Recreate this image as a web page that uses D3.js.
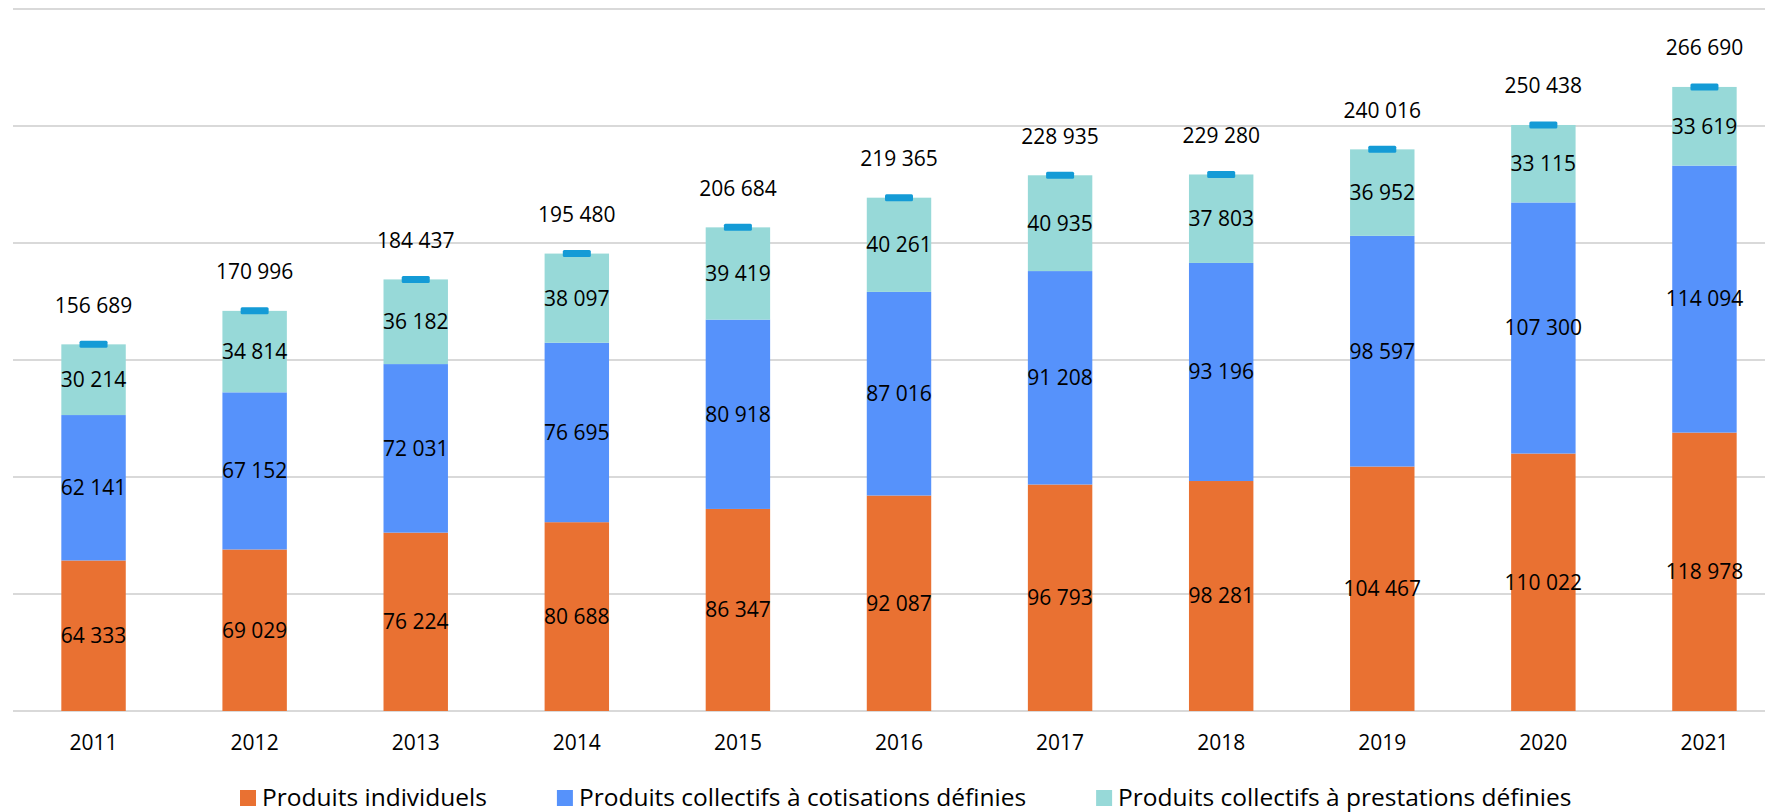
<!DOCTYPE html>
<html>
<head>
<meta charset="utf-8">
<script src="https://cdn.jsdelivr.net/npm/d3@7"></script>
<style>
  html, body { margin: 0; padding: 0; background: #fff; }
  svg { display: block; }
  text { font-family: "Open Sans", "Liberation Sans", sans-serif; fill: #000; }
</style>
</head>
<body>
<svg id="chart" width="1765" height="812"></svg>
<script>
const years = ["2011","2012","2013","2014","2015","2016","2017","2018","2019","2020","2021"];
const individuels = [64333, 69029, 76224, 80688, 86347, 92087, 96793, 98281, 104467, 110022, 118978];
const cotisations = [62141, 67152, 72031, 76695, 80918, 87016, 91208, 93196, 98597, 107300, 114094];
const prestations = [30214, 34814, 36182, 38097, 39419, 40261, 40935, 37803, 36952, 33115, 33619];
const totals = [156689, 170996, 184437, 195480, 206684, 219365, 228935, 229280, 240016, 250438, 266690];
const seriesNames = ["Produits individuels", "Produits collectifs à cotisations définies", "Produits collectifs à prestations définies"];
const yTicks = [0, 50000, 100000, 150000, 200000, 250000, 300000];

const colors = ["#E97132", "#5692FB", "#97D9D8"];
const markerColor = "#149BD6";
const fmt = v => d3.format(",")(v).replace(/,/g, " ");
const labelSize = 21;

const svg = d3.select("#chart");
const x = d3.scaleBand().domain(years).range([13, 1785]).paddingInner(0.6).paddingOuter(0.3);
const y = d3.scaleLinear().domain([0, 300000]).range([711, 9]);

// gridlines
svg.append("g").selectAll("line").data(yTicks).join("line")
  .attr("x1", 13).attr("x2", 1765)
  .attr("y1", d => y(d)).attr("y2", d => y(d))
  .attr("stroke", "#D9D9D9").attr("stroke-width", 2);

const table = years.map((yr, i) => ({ year: yr, s0: individuels[i], s1: cotisations[i], s2: prestations[i], total: totals[i] }));
const stack = d3.stack().keys(["s0", "s1", "s2"])(table);

const bw = x.bandwidth();
const layers = svg.append("g").selectAll("g").data(stack).join("g")
  .attr("fill", (d, i) => colors[i]);
layers.selectAll("rect").data(d => d).join("rect")
  .attr("x", d => x(d.data.year))
  .attr("width", bw)
  .attr("y", d => y(d[1]))
  .attr("height", d => y(d[0]) - y(d[1]));

// segment labels
layers.selectAll("text").data(d => d.map(p => ({ p, key: d.key }))).join("text")
  .attr("x", d => x(d.p.data.year) + bw / 2)
  .attr("y", d => (y(d.p[0]) + y(d.p[1])) / 2)
  .attr("dy", "0.35em")
  .attr("text-anchor", "middle")
  .attr("font-size", labelSize)
  .text(d => fmt(d.p.data[d.key]));

// total markers
svg.append("g").selectAll("rect").data(table).join("rect")
  .attr("x", d => x(d.year) + bw / 2 - 14)
  .attr("y", d => y(d.total) - 3.5)
  .attr("width", 28).attr("height", 7).attr("rx", 1.5)
  .attr("fill", markerColor);

// total labels
svg.append("g").selectAll("text").data(table).join("text")
  .attr("x", d => x(d.year) + bw / 2)
  .attr("y", d => y(d.total) - 39)
  .attr("dy", "0.35em")
  .attr("text-anchor", "middle")
  .attr("font-size", labelSize)
  .text(d => fmt(d.total));

// x axis labels
svg.append("g").selectAll("text").data(years).join("text")
  .attr("x", d => x(d) + bw / 2)
  .attr("y", 743)
  .attr("dy", "0.35em")
  .attr("text-anchor", "middle")
  .attr("font-size", labelSize)
  .text(d => d);

// legend
const legend = svg.append("g");
let lx = 240;
seriesNames.forEach((name, i) => {
  legend.append("rect").attr("x", lx).attr("y", 790).attr("width", 16).attr("height", 16).attr("fill", colors[i]);
  const t = legend.append("text").attr("x", lx + 22).attr("y", 806)
    .attr("font-size", 24.5).text(name);
  lx += 22 + t.node().getComputedTextLength() + 70;
});
</script>
</body>
</html>
